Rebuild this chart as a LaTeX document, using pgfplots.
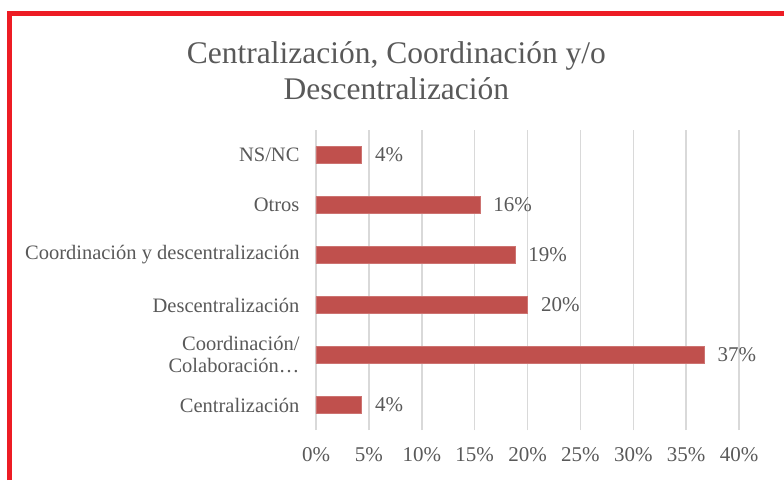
\documentclass[border=0pt]{standalone}
\usepackage{fontspec}
\setmainfont{Liberation Serif}
\usepackage{pgfplots}
\pgfplotsset{compat=1.18}
\definecolor{barred}{HTML}{C0504D}
\definecolor{txtgray}{HTML}{595959}
\definecolor{gridgray}{HTML}{D9D9D9}
\definecolor{framered}{HTML}{ED1C24}

\begin{document}
\begin{tikzpicture}[x=1pt,y=1pt]
\path[use as bounding box] (0,0) rectangle (784,-480);
% red frame of the original image
\draw[framered, line width=5pt] (9.5,-480) -- (9.5,-13.5) -- (784,-13.5);
\begin{axis}[
    at={(316pt,-430pt)}, anchor=south west,
    scale only axis, width=423pt, height=300pt,
    xbar, bar width=17pt,
    xmin=0, xmax=40, ymin=-0.5, ymax=5.5,
    xtick={0,5,...,40},
    xticklabels={0\%,5\%,10\%,15\%,20\%,25\%,30\%,35\%,40\%},
    ytick={0,...,5},
    yticklabels={Centralización,{Coordinación/\\Colaboración…},Descentralización,Coordinación y descentralización,Otros,NS/NC},
    /pgf/number format/assume math mode=true,
    axis line style={draw=none},
    major tick length=0pt,
    xmajorgrids,
    grid style={gridgray, line width=1.5pt},
    xticklabel style={font=\fontsize{21}{23}\selectfont, text=txtgray, yshift=-14pt},
    yticklabel style={font=\fontsize{20.5}{22}\selectfont, text=txtgray, align=right, xshift=-13pt},
    title={Centralización, Coordinación y/o\\Descentralización},
    title style={at={(0.19,1)}, anchor=south, yshift=21pt, align=center,
        font=\fontsize{31.5}{36}\selectfont, text=txtgray},
    nodes near coords={\pgfmathprintnumber[fixed,precision=0]{\pgfplotspointmeta}\%},
    every node near coord/.append style={font=\fontsize{21}{23}\selectfont, text=txtgray, anchor=west, xshift=10pt},
]
\addplot[fill=barred, draw=barred!80] coordinates {
    (4.3,0) (36.7,1) (20.0,2) (18.8,3) (15.5,4) (4.3,5)
};
\end{axis}
\end{tikzpicture}
\end{document}
